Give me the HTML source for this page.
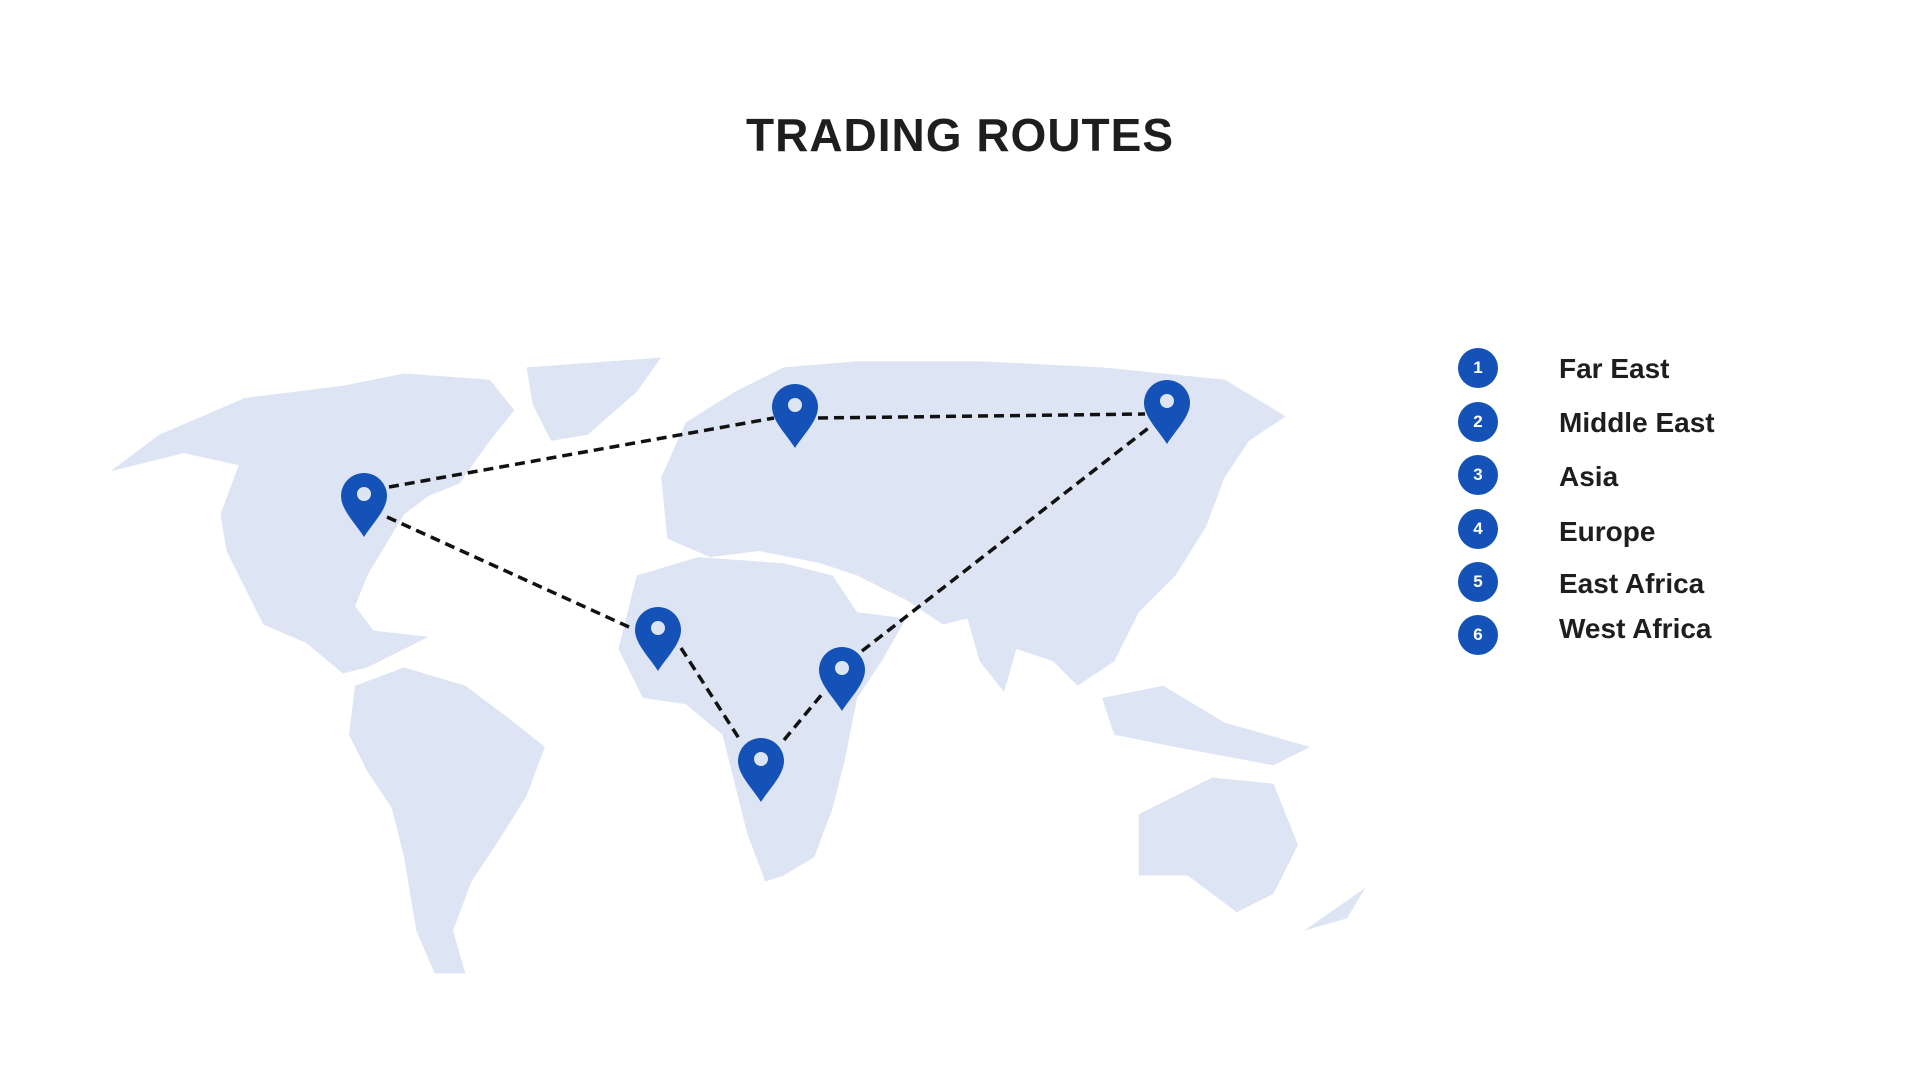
<!DOCTYPE html>
<html><head><meta charset="utf-8"><style>
body{margin:0;width:1920px;height:1080px;background:#fff;overflow:hidden;font-family:"Liberation Sans",sans-serif;position:relative}
.t{position:absolute;left:0;width:1920px;top:108px;text-align:center;font-weight:bold;font-size:46px;color:#1e1e1e;letter-spacing:1px}
.c{position:absolute;left:1458px;width:40px;height:40px;border-radius:50%;background:#1452b8;color:#fff;font-weight:bold;font-size:17px;text-align:center;line-height:40px}
.l{position:absolute;left:1559px;font-weight:bold;font-size:28px;color:#1e1e1e;line-height:40px}
</style></head><body>
<svg width="1920" height="1080" style="position:absolute;left:0;top:0">
<g transform="scale(1.2245)" fill="#dde5f4">
<path d="M90,385 L130,355 L200,325 L280,315 L330,305 L400,310 L420,335 L400,360 L375,395 L350,405 L330,420 L300,470 L290,495 L305,515 L350,520 L330,530 L300,545 L280,550 L250,525 L215,510 L200,480 L185,450 L180,420 L195,380 L150,370 Z"/>
<path d="M430,300 L540,292 L520,320 L480,355 L450,360 L435,330 Z"/>
<path d="M290,560 L330,545 L380,560 L420,590 L445,610 L430,650 L405,690 L385,720 L370,760 L380,795 L355,795 L340,760 L330,700 L320,660 L300,630 L285,600 Z"/>
<path d="M540,390 L560,345 L600,320 L640,300 L700,295 L800,295 L900,300 L1000,310 L1050,340 L1020,360 L1000,390 L985,430 L960,470 L930,500 L910,540 L880,560 L860,540 L830,530 L820,565 L800,540 L790,505 L770,510 L740,490 L700,470 L670,460 L620,450 L580,455 L545,440 Z"/>
<path d="M520,470 L570,455 L640,460 L680,470 L700,500 L740,505 L720,540 L700,570 L690,620 L680,660 L665,700 L640,715 L625,720 L610,680 L600,640 L590,600 L560,575 L525,570 L505,530 Z"/>
<path d="M900,570 L950,560 L1000,590 L1070,610 L1040,625 L960,610 L910,600 Z"/>
<path d="M930,665 L990,635 L1040,640 L1060,690 L1040,730 L1010,745 L970,715 L930,715 Z"/>
<path d="M1065,760 L1115,725 L1100,750 Z"/>
</g>
<g stroke="#111" stroke-width="3.5" stroke-dasharray="10,6" fill="none">
<line x1="389" y1="487" x2="774" y2="418"/>
<line x1="818" y1="418" x2="1145" y2="414"/>
<line x1="387" y1="517" x2="629" y2="627"/>
<line x1="681" y1="648" x2="740" y2="740"/>
<line x1="784" y1="740" x2="823" y2="693"/>
<line x1="862" y1="651" x2="1151" y2="426"/>
</g>
<defs><g id="p"><path d="M0,41 C-8,28 -23,14 -23,0 A23,23 0 1 1 23,0 C23,14 8,28 0,41 Z" fill="#1452b8"/><circle cx="0" cy="-2" r="7" fill="#dde5f4"/></g></defs>
<use href="#p" x="364" y="496"/>
<use href="#p" x="795" y="407"/>
<use href="#p" x="1167" y="403"/>
<use href="#p" x="658" y="630"/>
<use href="#p" x="761" y="761"/>
<use href="#p" x="842" y="670"/>
</svg>
<div class="t">TRADING ROUTES</div>
<div class="c" style="top:348px">1</div><div class="l" style="top:349px">Far East</div>
<div class="c" style="top:402px">2</div><div class="l" style="top:403px">Middle East</div>
<div class="c" style="top:455px">3</div><div class="l" style="top:457px">Asia</div>
<div class="c" style="top:509px">4</div><div class="l" style="top:512px">Europe</div>
<div class="c" style="top:562px">5</div><div class="l" style="top:564px">East Africa</div>
<div class="c" style="top:615px">6</div><div class="l" style="top:609px">West Africa</div>
</body></html>
